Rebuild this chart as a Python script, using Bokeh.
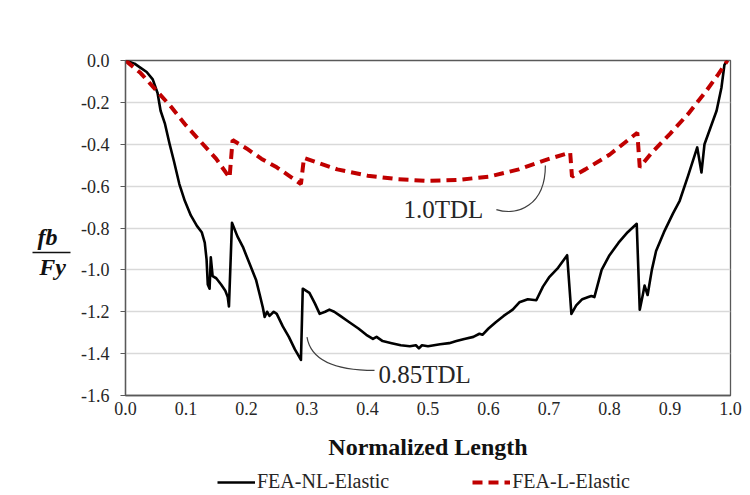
from bokeh.plotting import figure
from bokeh.layouts import column, row
from bokeh.models import Range1d, Legend, LegendItem, Label, FixedTicker
from bokeh.core.properties import value
from bokeh.embed import file_html
from bokeh.resources import INLINE

# FEA-NL-Elastic (black solid)
nl_x = [0.000, 0.015, 0.025, 0.035, 0.045, 0.053, 0.058, 0.065, 0.073, 0.080,
        0.089, 0.098, 0.108, 0.118, 0.126, 0.131, 0.134, 0.136, 0.139, 0.141,
        0.144, 0.150, 0.158, 0.165, 0.169, 0.171, 0.176, 0.185, 0.194, 0.205,
        0.216, 0.222, 0.227, 0.230, 0.234, 0.238, 0.245, 0.250, 0.260, 0.270,
        0.280, 0.290, 0.293, 0.304, 0.313, 0.321, 0.330, 0.337, 0.345, 0.355,
        0.370, 0.385, 0.398, 0.409, 0.415, 0.425, 0.440, 0.455, 0.470, 0.480,
        0.485, 0.490, 0.500, 0.510, 0.520, 0.535, 0.547, 0.560, 0.575, 0.585,
        0.590, 0.600, 0.612, 0.625, 0.640, 0.651, 0.665, 0.679, 0.690, 0.700,
        0.715, 0.730, 0.737, 0.745, 0.755, 0.765, 0.770, 0.775, 0.787, 0.800,
        0.815, 0.830, 0.845, 0.850, 0.855, 0.858, 0.863, 0.870, 0.877, 0.890,
        0.905, 0.916, 0.930, 0.945, 0.950, 0.952, 0.957, 0.967, 0.977, 0.985,
        0.990, 0.995]
nl_y = [0.000, -0.015, -0.035, -0.055, -0.090, -0.155, -0.240, -0.300, -0.400, -0.480,
        -0.590, -0.670, -0.740, -0.790, -0.820, -0.870, -0.950, -1.070, -1.090, -0.940,
        -1.030, -1.040, -1.070, -1.100, -1.130, -1.175, -0.775, -0.840, -0.890, -0.970,
        -1.050, -1.120, -1.180, -1.225, -1.200, -1.220, -1.200, -1.210, -1.270, -1.320,
        -1.380, -1.430, -1.090, -1.110, -1.160, -1.210, -1.200, -1.190, -1.200, -1.220,
        -1.250, -1.280, -1.310, -1.330, -1.320, -1.340, -1.350, -1.360, -1.365, -1.360,
        -1.375, -1.360, -1.365, -1.360, -1.355, -1.350, -1.340, -1.330, -1.320, -1.305,
        -1.310, -1.280, -1.250, -1.220, -1.190, -1.155, -1.140, -1.145, -1.080, -1.036,
        -0.990, -0.930, -1.210, -1.170, -1.140, -1.130, -1.125, -1.130, -1.000, -0.930,
        -0.870, -0.820, -0.780, -1.190, -1.120, -1.075, -1.120, -1.000, -0.910, -0.820,
        -0.730, -0.670, -0.550, -0.415, -0.500, -0.535, -0.400, -0.320, -0.240, -0.130,
        -0.020, 0.000]

# FEA-L-Elastic (red dashed)
l_x = [0.000, 0.025, 0.050, 0.075, 0.100, 0.125, 0.150, 0.172, 0.177, 0.200,
       0.225, 0.250, 0.270, 0.290, 0.295, 0.320, 0.350, 0.400, 0.450, 0.500,
       0.550, 0.600, 0.650, 0.700, 0.735, 0.738, 0.760, 0.800, 0.846, 0.850,
       0.870, 0.900, 0.930, 0.960, 0.980, 0.995]
l_y = [0.000, -0.060, -0.140, -0.220, -0.310, -0.390, -0.470, -0.560, -0.380, -0.420,
       -0.470, -0.510, -0.550, -0.590, -0.465, -0.490, -0.520, -0.550, -0.567, -0.575,
       -0.570, -0.555, -0.520, -0.470, -0.440, -0.555, -0.520, -0.450, -0.345, -0.510,
       -0.440, -0.350, -0.255, -0.145, -0.065, 0.000]

x_ticks = [0.0, 0.1, 0.2, 0.3, 0.4, 0.5, 0.6, 0.7, 0.8, 0.9, 1.0]
y_ticks = [0.0, -0.2, -0.4, -0.6, -0.8, -1.0, -1.2, -1.4, -1.6]
series_names = ["FEA-NL-Elastic", "FEA-L-Elastic"]
x_title = "Normalized Length"
y_title = ["fb", "Fy"]
notes = ["1.0TDL", "0.85TDL"]

SERIF = "Liberation Serif"
AX = "#595959"
LEFT_W = 75
MAIN_H = 468

# ---------------- main chart ----------------
p = figure(width=750 - LEFT_W, height=MAIN_H, output_backend="svg", toolbar_location=None,
           x_range=Range1d(0, 1), y_range=Range1d(-1.6, 0),
           min_border_left=125 - LEFT_W, min_border_right=20, min_border_top=60,
           min_border_bottom=MAIN_H - 395)
p.background_fill_color = "white"
p.border_fill_color = "white"
p.outline_line_color = AX
p.outline_line_width = 1.3

p.xgrid.visible = False
p.ygrid.ticker = FixedTicker(ticks=y_ticks)
p.ygrid.grid_line_color = "#d9d9d9"
p.ygrid.grid_line_width = 1.3

p.xaxis.ticker = FixedTicker(ticks=x_ticks)
p.yaxis.ticker = FixedTicker(ticks=y_ticks)
p.xaxis.major_label_overrides = {t: f"{t:.1f}" for t in x_ticks}
p.yaxis.major_label_overrides = {t: f"{t:.1f}" for t in y_ticks}

for ax in (p.xaxis[0], p.yaxis[0]):
    ax.axis_line_color = AX
    ax.axis_line_width = 1.3
    ax.major_tick_line_color = AX
    ax.minor_tick_line_color = None
    ax.major_label_text_font = SERIF
    ax.major_label_text_font_size = "18px"
    ax.major_label_text_color = "#262626"

p.xaxis.major_tick_out = 0
p.xaxis.major_tick_in = 0
p.xaxis.major_label_standoff = 6
p.yaxis.major_tick_out = 5
p.yaxis.major_tick_in = 0
p.yaxis.major_label_standoff = 11

p.xaxis.axis_label = x_title
p.xaxis.axis_label_text_font = SERIF
p.xaxis.axis_label_text_font_size = "24px"
p.xaxis.axis_label_text_font_style = "bold"
p.xaxis.axis_label_text_color = "#111111"
p.xaxis.axis_label_standoff = 16

p.line(nl_x, nl_y, line_color="black", line_width=2.6, line_join="round")
p.line(l_x, l_y, line_color="#c00000", line_width=4, line_dash="10 6")

# connector curves for the annotations
p.bezier(x0=[0.613], y0=[-0.712], x1=[0.694], y1=[-0.501],
         cx0=[0.648], cy0=[-0.745], cx1=[0.694], cy1=[-0.692],
         line_color="#404040", line_width=1.2)
p.quadratic(x0=[0.300], y0=[-1.321], x1=[0.4116], y1=[-1.480],
            cx=[0.309], cy=[-1.480], line_color="#404040", line_width=1.2)

p.add_layout(Label(x=0.4595, y=-0.712, text=notes[0], text_font=SERIF,
                   text_font_size="25px", text_baseline="middle",
                   text_align="left", text_color="#262626"))
p.add_layout(Label(x=0.418, y=-1.50, text=notes[1], text_font=SERIF,
                   text_font_size="25px", text_baseline="middle",
                   text_align="left", text_color="#262626"))

# ---------------- y-axis title (fraction fb / Fy) ----------------
yl = figure(width=LEFT_W, height=MAIN_H, output_backend="svg", toolbar_location=None,
            x_range=Range1d(0, LEFT_W), y_range=p.y_range,
            x_axis_type=None, y_axis_type=None,
            min_border_left=0, min_border_right=0, min_border_top=60,
            min_border_bottom=MAIN_H - 395)
yl.outline_line_color = None
yl.text(x=[47, 52], y=[-0.845, -0.985], text=y_title,
        text_font=value(SERIF), text_font_size="24px", text_font_style="bold italic",
        text_baseline="middle", text_align="center", text_color="#111111")
yl.segment(x0=[32], y0=[-0.917], x1=[70], y1=[-0.917],
           line_color="#111111", line_width=1.5)

# ---------------- legend strip ----------------
lg = figure(width=750, height=495 - MAIN_H, output_backend="svg", toolbar_location=None,
            x_range=Range1d(0, 1), y_range=Range1d(0, 1),
            x_axis_type=None, y_axis_type=None,
            min_border_left=0, min_border_right=0, min_border_top=0,
            min_border_bottom=0)
lg.outline_line_color = None
# legend-only renderers, kept outside the visible range of this strip
r_nl = lg.line([5, 6], [5, 6], line_color="black", line_width=2.6)
r_l = lg.line([5, 6], [5, 6], line_color="#c00000", line_width=4, line_dash="10 6")
legend = Legend(items=[LegendItem(label=series_names[0], renderers=[r_nl]),
                       LegendItem(label=series_names[1], renderers=[r_l])],
                orientation="horizontal", location=(217, 2),
                label_text_font=SERIF, label_text_font_size="20px",
                label_text_color="#262626", glyph_width=38, glyph_height=20,
                label_height=20, label_standoff=2,
                spacing=83, padding=0, margin=0, border_line_color=None,
                background_fill_alpha=0)
lg.add_layout(legend)

layout = column(row(yl, p, spacing=0), lg, spacing=0)
open("out.html", "w").write(file_html(layout, INLINE))
